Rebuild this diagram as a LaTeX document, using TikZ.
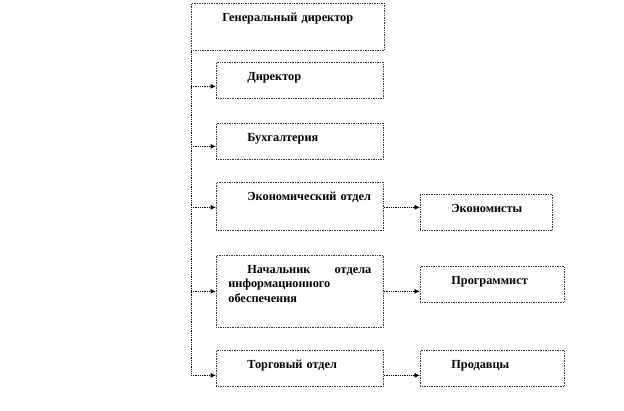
\documentclass[tikz,border=0pt]{standalone}
\usepackage{fontspec}
\setmainfont{Liberation Serif}
\usetikzlibrary{arrows.meta,calc}

\begin{document}
\begin{tikzpicture}
  [x=1pt,y=-1pt,
   box/.style={draw=black!80,densely dotted,line width=.7pt,anchor=north west,
     inner xsep=12pt,inner ysep=4pt,align=left,text height=14pt,text depth=14pt,
     font=\bfseries\fontsize{12.3}{14.5}\selectfont,
     execute at begin node={\hspace*{19pt}}},
   link/.style={densely dotted,line width=.8pt},
   arr/.style={link,-{Latex[length=5.5pt,width=5pt]}}]
  \useasboundingbox (0,0) rectangle (624,411);
  \node[box,text width=169pt,text depth=25pt] (gen) at (191,3) {Генеральный директор};
  \node[box,text width=143pt] (dir) at (216,62) {Директор};
  \node[box,text width=143pt] (buh) at (216,123) {Бухгалтерия};
  \node[box,text width=143pt,text depth=26pt] (econ) at (216,182) {Экономический отдел};
  \node[box,text width=143pt,text depth=50pt] (head) at (216,255)
    {Начальник\hfill отдела\\ информационного\\ обеспечения};
  \node[box,text width=143pt] (trade) at (216,350) {Торговый отдел};
  \node[box,text width=108pt] (ecs) at (420,194) {Экономисты};
  \node[box,text width=120pt] (prog) at (420,266) {Программист};
  \node[box,text width=120pt] (sell) at (420,350) {Продавцы};

  \foreach \n/\dy in {dir/6,buh/5,econ/1,head/0,trade/7}
    \coordinate (t\n) at ($(\n.west)+(0,\dy)$);

  \draw[link] (gen.south west) -- (gen.south west |- ttrade);
  \foreach \n in {dir,buh,econ,head,trade}
    \draw[arr] (gen.south west |- t\n) -- (t\n);
  \foreach \from/\to in {econ/ecs,head/prog,trade/sell}
    \draw[arr] (t\from -| \from.east) -- (t\from -| \to.west);
\end{tikzpicture}
\end{document}
